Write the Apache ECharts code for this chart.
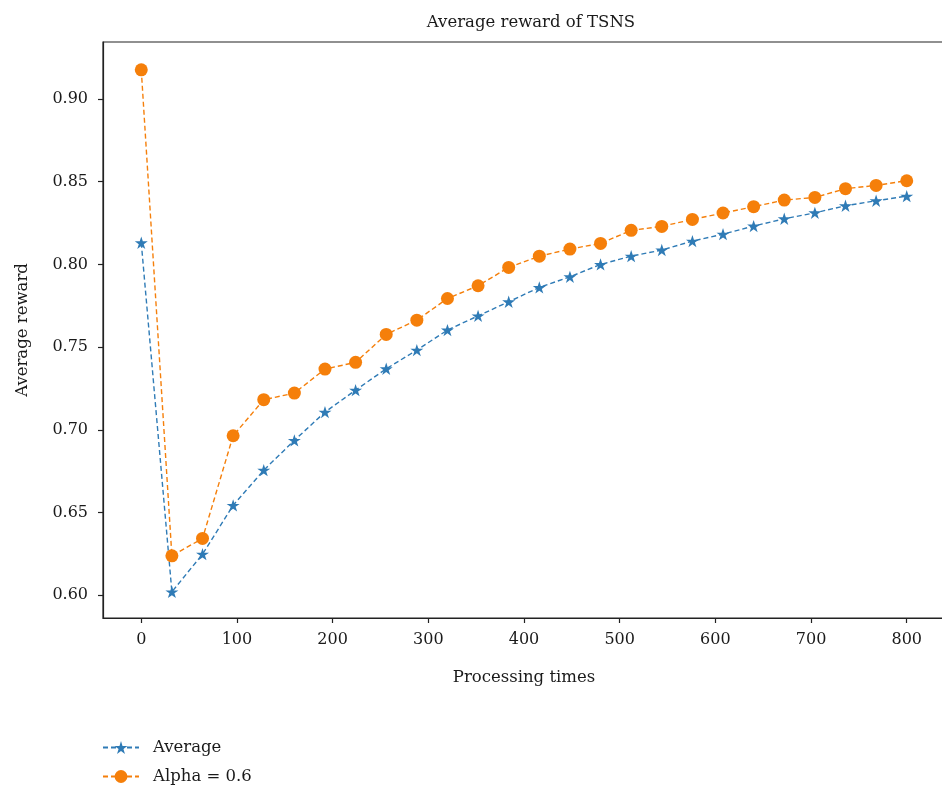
<!DOCTYPE html>
<html>
<head>
<meta charset="utf-8">
<script src="https://cdn.jsdelivr.net/npm/echarts@6/dist/echarts.min.js"></script>
<style>html,body{margin:0;padding:0;background:#fff}#c{width:942px;height:796px}</style>
</head>
<body>
<div id="c"></div>
<script>
const processingTimes = [0,32,64,96,128,160,192,224,256,288,320,352,384,416,448,480,512,544,576,608,640,672,704,736,768,800];
const averageValues = [0.8131,0.6020,0.6248,0.6543,0.6756,0.6936,0.7107,0.7240,0.7369,0.7482,0.7603,0.7689,0.7774,0.7861,0.7925,0.8000,0.8050,0.8087,0.8141,0.8183,0.8232,0.8276,0.8312,0.8355,0.8385,0.8413];
const alphaValues = [0.9177,0.6238,0.6343,0.6964,0.7182,0.7222,0.7367,0.7408,0.7577,0.7663,0.7794,0.7871,0.7982,0.8050,0.8093,0.8127,0.8206,0.8230,0.8272,0.8311,0.8349,0.8389,0.8405,0.8458,0.8478,0.8506];
const xTicks = [0,100,200,300,400,500,600,700,800];
const yTicks = [0.60,0.65,0.70,0.75,0.80,0.85,0.90];

const FONT = 'DejaVu Serif';
const star = 'path://M0,-1 L0.2245,-0.309 L0.951,-0.309 L0.363,0.118 L0.588,0.809 L0,0.382 L-0.588,0.809 L-0.363,0.118 L-0.951,-0.309 L-0.2245,-0.309 Z';
const chart = echarts.init(document.getElementById('c'), null, {renderer: 'canvas'});
chart.setOption({
  animation: false,
  backgroundColor: '#fff',
  title: {
    text: 'Average reward of TSNS', left: 526, top: 9, textAlign: 'center',
    textStyle: {fontFamily: FONT, fontSize: 16.5, fontWeight: 'normal', color: '#1a1a1a'}
  },
  grid: {left: 103, top: 42, width: 842, height: 576, show: true, borderColor: '#222', borderWidth: 1.2,
         backgroundColor: 'transparent', outerBoundsMode: 'none', containLabel: false},
  legend: {
    orient: 'vertical', left: 97, top: 734, itemWidth: 36, itemHeight: 16, itemGap: 12,
    textStyle: {fontFamily: FONT, fontSize: 16.5, color: '#1a1a1a', padding: [0, 0, 0, 9]},
    data: ['Average', 'Alpha = 0.6']
  },
  xAxis: {
    type: 'value', min: -40, max: 840,
    name: 'Processing times', nameLocation: 'middle', nameGap: 51,
    nameTextStyle: {fontFamily: FONT, fontSize: 16.5, color: '#1a1a1a'},
    axisLine: {show: true, onZero: false, lineStyle: {color: '#222', width: 1.2}},
    axisTick: {show: true, length: 5, customValues: xTicks, lineStyle: {color: '#222', width: 1.2}},
    axisLabel: {customValues: xTicks, margin: 14, fontFamily: FONT, fontSize: 16, color: '#1a1a1a'},
    splitLine: {show: false}
  },
  yAxis: {
    type: 'value', min: 0.5862, max: 0.9345,
    name: 'Average reward', nameLocation: 'middle', nameGap: 72, nameRotate: 90,
    nameTextStyle: {fontFamily: FONT, fontSize: 16.5, color: '#1a1a1a'},
    axisLine: {show: true, onZero: false, lineStyle: {color: '#222', width: 1.2}},
    axisTick: {show: true, length: 5, customValues: yTicks, lineStyle: {color: '#222', width: 1.2}},
    axisLabel: {customValues: yTicks, margin: 15, fontFamily: FONT, fontSize: 16, color: '#1a1a1a', formatter: v => v.toFixed(2)},
    splitLine: {show: false}
  },
  series: [
    {
      name: 'Average', type: 'line',
      data: processingTimes.map((x, i) => [x, averageValues[i]]),
      symbol: star, symbolSize: 13, symbolKeepAspect: true,
      itemStyle: {color: '#2f7bb6'},
      lineStyle: {color: '#2f7bb6', width: 1.4, type: [5, 3]}
    },
    {
      name: 'Alpha = 0.6', type: 'line',
      data: processingTimes.map((x, i) => [x, alphaValues[i]]),
      symbol: 'circle', symbolSize: 13,
      itemStyle: {color: '#f57f0a'},
      lineStyle: {color: '#f57f0a', width: 1.4, type: [5, 3]}
    }
  ]
});
</script>
</body>
</html>
